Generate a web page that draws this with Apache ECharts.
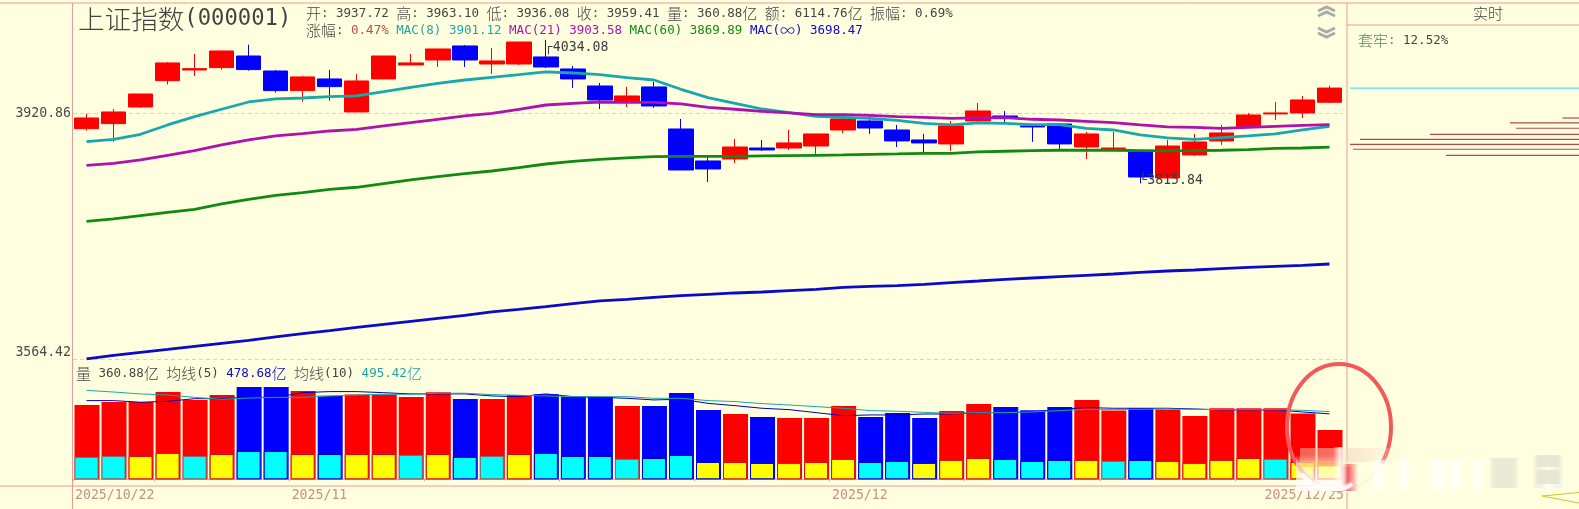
<!DOCTYPE html>
<html><head><meta charset="utf-8">
<style>html,body{margin:0;padding:0;background:#ffffe0;overflow:hidden}#c{width:1579px;height:509px}</style>
<script src="https://cdn.jsdelivr.net/npm/echarts@6/dist/echarts.min.js"></script>
</head><body><div id="c"></div>
<script>
const dates = ['2025/10/22','2025/10/23','2025/10/24','2025/10/27','2025/10/28','2025/10/29','2025/10/30','2025/10/31',
'2025/11/03','2025/11/04','2025/11/05','2025/11/06','2025/11/07','2025/11/10','2025/11/11','2025/11/12','2025/11/13','2025/11/14',
'2025/11/17','2025/11/18','2025/11/19','2025/11/20','2025/11/21','2025/11/24','2025/11/25','2025/11/26','2025/11/27','2025/11/28',
'2025/12/01','2025/12/02','2025/12/03','2025/12/04','2025/12/05','2025/12/08','2025/12/09','2025/12/10','2025/12/11','2025/12/12',
'2025/12/15','2025/12/16','2025/12/17','2025/12/18','2025/12/19','2025/12/22','2025/12/23','2025/12/24','2025/12/25'];
// open, close, low, high
const candles = [
[3897.6,3913.8,3894.6,3919.9],[3905.2,3922.9,3878.1,3927.4],[3930.5,3950.3,3929.0,3950.3],[3970.8,3998.1,3964.7,3999.6],
[3987.2,3989.3,3978.0,4012.0],[3990.9,4016.7,3987.8,4016.7],[4008.9,3987.8,3986.2,4026.6],[3985.7,3955.5,3952.4,3987.2],
[3955.5,3976.5,3938.6,3978.0],[3973.4,3961.6,3940.2,3987.2],[3922.9,3970.3,3922.9,3981.1],[3973.4,4008.9,3973.4,4008.9],
[3995.0,3998.1,3995.0,4012.0],[4002.7,4019.8,3991.9,4019.8],[4024.5,4002.7,3991.9,4026.0],[3996.5,4001.2,3981.1,4021.4],
[3996.5,4030.7,3995.0,4030.7],[4007.4,3991.9,3990.3,4034.08],[3988.8,3973.4,3959.5,3993.4],[3962.6,3941.2,3927.4,3967.2],
[3939.6,3947.3,3930.5,3961.1],[3961.1,3932.0,3929.0,3968.8],[3897.1,3835.7,3835.7,3912.3],[3849.1,3837.2,3817.9,3858.1],
[3852.1,3870.0,3846.1,3882.1],[3868.5,3865.6,3864.1,3880.6],[3868.5,3876.1,3865.6,3895.6],[3871.5,3889.6,3859.6,3889.6],
[3895.6,3912.3,3891.1,3918.3],[3909.2,3898.6,3889.6,3918.3],[3895.6,3879.1,3870.0,3903.2],[3880.6,3876.1,3862.6,3889.6],
[3874.6,3901.7,3864.1,3909.2],[3909.2,3924.4,3907.7,3936.6],[3916.8,3913.8,3904.7,3924.4],[3901.7,3900.2,3877.6,3903.2],
[3904.7,3874.6,3865.6,3904.7],[3870.0,3889.6,3852.1,3892.6],[3865.6,3868.5,3865.6,3892.6],[3862.6,3825.3,3815.84,3865.6],
[3823.9,3871.5,3823.9,3880.6],[3858.1,3877.6,3856.6,3889.6],[3879.1,3891.1,3873.1,3903.2],[3900.2,3918.3,3900.2,3921.4],
[3919.9,3921.4,3910.7,3938.1],[3921.4,3941.2,3913.8,3947.3],[3937.72,3959.41,3936.08,3963.10]];
const mac8 = [3878.1,3881.6,3889.1,3903.2,3915.8,3927.0,3938.1,3942.7,3944.2,3946.3,3947.3,3953.9,3960.6,3966.7,3971.8,3975.9,3980.0,3984.2,3982.6,3980.0,3975.4,3971.8,3957.5,3944.7,3936.1,3927.4,3921.9,3916.3,3914.8,3913.3,3910.2,3905.7,3903.2,3906.2,3905.7,3903.7,3903.7,3898.1,3895.6,3888.1,3883.6,3881.6,3884.1,3886.6,3889.6,3895.6,3901.12];
const mac21 = [3842.7,3845.6,3850.6,3857.6,3864.6,3873.1,3880.6,3886.6,3890.1,3894.1,3896.6,3901.7,3906.7,3911.8,3916.8,3920.9,3927.0,3933.5,3936.1,3938.1,3937.6,3937.6,3935.1,3930.0,3927.0,3923.9,3921.4,3918.8,3918.8,3917.8,3915.8,3914.8,3913.3,3913.8,3914.3,3911.8,3910.7,3908.7,3906.7,3903.2,3900.2,3899.6,3898.1,3899.6,3901.1,3902.6,3903.58];
const mac60 = [3760.2,3763.6,3768.5,3773.3,3777.7,3785.5,3792.4,3798.3,3802.2,3807.1,3810.1,3815.5,3820.9,3825.8,3830.3,3834.2,3839.1,3844.6,3848.6,3851.6,3853.6,3855.6,3856.1,3856.1,3856.1,3856.6,3857.1,3857.6,3858.1,3859.1,3859.6,3860.6,3860.6,3862.6,3863.6,3864.6,3865.1,3865.1,3865.1,3864.6,3864.1,3864.6,3865.1,3866.1,3868.0,3868.5,3869.89];
const macInf = [3564.9,3569.9,3574.1,3578.2,3582.4,3586.6,3590.7,3595.4,3600.0,3604.2,3608.9,3613.1,3617.3,3621.5,3625.7,3630.4,3634.1,3637.9,3642.1,3645.9,3648.2,3651.1,3653.4,3655.3,3657.2,3658.6,3660.5,3662.4,3665.2,3666.6,3667.6,3669.5,3671.9,3674.2,3676.6,3678.5,3680.4,3682.3,3684.2,3686.6,3688.5,3689.9,3691.8,3693.7,3695.2,3696.6,3698.47];
const volume = [544,566,566,639,581,617,676,676,647,612,620,620,603,637,588,588,617,622,605,605,537,537,632,508,478,456,449,449,537,456,486,449,500,551,529,505,529,581,503,520,510,464,520,520,520,481,360.88];
const innerVolume = [164,171,171,193,171,185,207,207,185,185,185,185,178,185,164,171,185,193,171,171,149,156,178,127,127,120,120,127,149,127,134,120,142,156,149,134,142,142,134,142,134,120,142,156,149,127,105];
const innerIsYellow = [0,0,1,1,0,1,0,0,1,0,1,1,0,1,0,0,1,0,0,0,0,0,0,1,1,1,1,1,1,0,0,1,1,1,0,0,0,1,0,0,1,1,1,1,0,1,1];
const volMa5 = [576,576,564,571,590,590,600,600,634,642,642,634,625,625,625,610,605,625,605,600,593,581,586,556,539,520,510,488,466,471,471,478,478,488,488,493,512,525,520,520,520,515,508,508,508,493,478.68];
const volMa10 = [651,639,625,617,600,586,595,600,600,610,617,622,622,630,630,620,615,610,605,605,605,593,593,576,569,554,544,532,520,503,498,490,483,488,488,493,503,512,512,512,515,512,510,510,510,505,495.42];
const priceTicks = [3564.42,3920.86];
const dateLabelIndex = [0,8,28,46];
const dateTickIndex = [0,3,8,13,18,23,28,33,38,43];
const chipPrice = [3913.7,3906.2,3898.2,3889.1,3881.6,3874.0,3866.6,3857.6];
const chipLength = [16.5,69,63,149,219,229,226,133];
const currentPrice = 3959.41;
const nameText = '上证指数(000001)';
const quoteLine = '开: 3937.72 高: 3963.10 低: 3936.08 收: 3959.41 量: 360.88亿 额: 6114.76亿 振幅: 0.69%';
const maLine = [['涨幅: ','d'],['0.47% ','r'],['MAC(8) 3901.12 ','t'],['MAC(21) 3903.58 ','p'],['MAC(60) 3869.89 ','g'],['MAC(∞) 3698.47','b']];
const volLine = [['量 360.88亿 均线(5) ','d'],['478.68亿 ','b'],['均线(10) ','d'],['495.42亿','t']];
const sideTab = '实时';
const sideLine = [['套牢:','h'],[' 12.52%','d']];

const C = {bg:'#ffffe0',frame:'#ea9a9a',d:'#444444',r:'#b84a4a',t:'#1fa5a5',p:'#b010b0',g:'#128a12',b:'#0a0ac8',h:'#5a8068',red:'#ff0000',blue:'#0000ff',cyan:'#00ffff',yellow:'#ffff00'};
const MONO = '"DejaVu Sans Mono","Liberation Mono",monospace', CJK = '"Noto Sans CJK SC"';
function richStyles(cjk, mono){
  const o = {};
  for (const k of ['d','r','t','p','g','b','h']) {
    o[k+'c'] = {fontFamily:CJK,fontSize:cjk,color:C[k],lineHeight:cjk+4,fontWeight:300};
    o[k+'m'] = {fontFamily:MONO,fontSize:mono,color:C[k],lineHeight:cjk+4,fontWeight:'normal'};
  }
  return o;
}
function toRich(parts){
  return parts.map(([s,k]) => s.split(/([\u4e00-\u9fff∞]+)/).filter(x=>x!=='').map(x =>
    /[\u4e00-\u9fff∞]/.test(x) ? `{${k}c|${x}}` : `{${k}m|${x}}`).join('')).join('');
}
function textTitle(parts,left,top,cjk,mono){
  return {text:toRich(parts),left,top,padding:0,textStyle:{fontWeight:'normal',rich:richStyles(cjk,mono)}};
}
const G = {left:73,width:1270,top:6,h:353.3,volTop:387,volH:92.3};
const priceMin = 3564.42, priceMax = 4087.3;
const lineSeries = (name,data,color,w,xi,z) => ({name,type:'line',data,xAxisIndex:xi,yAxisIndex:xi,showSymbol:false,silent:true,
  lineStyle:{color,width:w},itemStyle:{color},z:z||5,animation:false});
const up = i => candles[i][1] >= candles[i][0];
const LG = (x1,y1,x2,y2,stops) => new echarts.graphic.LinearGradient(x1,y1,x2,y2,stops.map(s=>({offset:s[0],color:s[1]})));
const softV = (a) => LG(0,0,1,0,[[0,'rgba(255,255,255,0)'],[.5,`rgba(255,255,255,${a})`],[1,'rgba(255,255,255,0)']]);
const softG = (a) => LG(0,0,1,0,[[0,'rgba(225,225,210,0)'],[.2,`rgba(225,225,210,${a})`],[.8,`rgba(225,225,210,${a})`],[1,'rgba(225,225,210,0)']]);
const gfx = (shape,fill,z) => ({type:'rect',z:z||34,silent:true,shape,style:{fill}});
const option = {
  backgroundColor:C.bg, animation:false,
  title:[
    textTitle([[nameText,'d']],78,4,26.6,22.2),
    textTitle([[quoteLine,'d']],306,4,15,12.5),
    textTitle(maLine,306,21,15,12.5),
    textTitle(volLine,76,364,15,12.5),
    textTitle([[sideTab,'d']],1473,4,15,12.5),
    textTitle(sideLine,1358,31,15,12.5)
  ],
  grid:[
    {left:G.left,width:G.width,top:G.top,height:G.h},
    {left:G.left,width:G.width,top:G.volTop,height:G.volH},
    {left:1350,width:229,top:G.top,height:G.h}
  ],
  xAxis:[
    {type:'category',gridIndex:0,data:dates,show:false},
    {type:'category',gridIndex:1,data:dates,offset:6.7,
      axisLine:{lineStyle:{color:C.frame,width:1}},
      axisTick:{show:true,length:2,lineStyle:{color:C.frame},interval:(i)=>dateTickIndex.includes(i)},
      axisLabel:{show:true,margin:3,hideOverlap:false,interval:(i)=>dateLabelIndex.includes(i),
        formatter:(v,i)=>i===0?`{l|${v}}`:i===46?`{r|${v}}`:`{m|${v.slice(0,7)}}`,
        rich:{
          l:{width:23,align:'left',fontFamily:MONO,fontSize:13.2,color:'#c88f88'},
          m:{width:22,align:'left',fontFamily:MONO,fontSize:13.2,color:'#c88f88'},
          r:{width:29,align:'right',fontFamily:MONO,fontSize:13.2,color:'#c88f88'}}}},
    {type:'value',gridIndex:2,min:0,max:229,inverse:true,show:false}
  ],
  yAxis:[
    {type:'log',gridIndex:0,min:priceMin,max:priceMax,
      axisLine:{show:false},
      axisTick:{show:false,customValues:priceTicks},
      axisLabel:{customValues:priceTicks,margin:2,fontFamily:MONO,fontSize:13.2,color:'#4a4a4a',verticalAlignMinLabel:'bottom',formatter:v=>(+v).toFixed(2)},
      splitLine:{show:true,lineStyle:{color:'#e6d0b0',type:[4,3],width:1}}},
    {type:'value',gridIndex:1,min:0,max:675.6,show:false,splitLine:{show:false}},
    {type:'log',gridIndex:2,min:priceMin,max:priceMax,show:false,splitLine:{show:false}}
  ],
  series:[
    {name:'K',type:'candlestick',xAxisIndex:0,yAxisIndex:0,data:candles,barWidth:25,silent:true,z:3,
      itemStyle:{color:C.red,color0:C.blue,borderColor:C.red,borderColor0:C.blue,borderWidth:1},
      markPoint:{symbol:'circle',symbolSize:0,silent:true,z:9,
        data:[
          {coord:[17,4034.08],label:{formatter:'┌4034.08',position:'right',distance:0,offset:[-1,8]}},
          {coord:[39,3815.84],label:{formatter:'└3815.84',position:'right',distance:0,offset:[-1,-3]}}
        ],
        label:{show:true,fontFamily:MONO,fontSize:13.2,color:'#3c3c3c'}}},
    lineSeries('MAC(60)',mac60,C.g,2.8,0,5),
    lineSeries('MAC(∞)',macInf,C.b,2.8,0,5),
    lineSeries('MAC(8)',mac8,'#18a8ac',2.8,0,6),
    lineSeries('MAC(21)',mac21,C.p,2.8,0,7),
    {name:'量',type:'bar',xAxisIndex:1,yAxisIndex:1,barWidth:25,barGap:'-100%',silent:true,z:3,
      data:volume.map((v,i)=>({value:v,itemStyle:{color:up(i)?C.red:C.blue}}))},
    {name:'内',type:'bar',xAxisIndex:1,yAxisIndex:1,barWidth:24,barGap:'-100%',silent:true,z:4,
      data:innerVolume.map((v,i)=>({value:v,itemStyle:{color:innerIsYellow[i]?C.yellow:C.cyan,borderColor:up(i)?(innerIsYellow[i]?'#d01010':'#8a6a6a'):'#0000c0',borderWidth:1}}))},
    lineSeries('均线(5)',volMa5,'#0000c0',1,1,6),
    lineSeries('均线(10)',volMa10,'#18a8a8',1,1,6),
    {name:'筹码',type:'custom',xAxisIndex:2,yAxisIndex:2,silent:true,clip:false,z:3,
      data:[[229,currentPrice,1]].concat(chipPrice.map((p,i)=>[chipLength[i],p,0])),
      encode:{x:0,y:1},
      renderItem:(params,api)=>{
        const a=api.coord([0,api.value(1)]), b=api.coord([api.value(0),api.value(1)]);
        return {type:'line',shape:{x1:b[0],y1:a[1],x2:a[0],y2:a[1]},style:{stroke:api.value(2)?'#55dff0':'#b04a4a',lineWidth:1.2}};
      }}
  ],
  graphic:{elements:[
    ...[[0,3,1579,3],[72.5,3,72.5,509],[1347,3,1347,509],[0,486,1347,486],[1347,25,1579,25]].map(s=>({type:'line',z:20,silent:true,
      shape:{x1:s[0],y1:s[1],x2:s[2],y2:s[3]},style:{stroke:C.frame,lineWidth:1}})),
    ...[[[1318,11],[1326.5,7],[1335,11]],[[1318,16],[1326.5,12],[1335,16]],[[1318,28],[1326.5,32],[1335,28]],[[1318,33],[1326.5,37],[1335,33]]].map(p=>({
      type:'polyline',z:20,silent:true,shape:{points:p},style:{fill:null,stroke:'#a8aca8',lineWidth:3}})),
    {type:'polyline',z:20,silent:true,shape:{points:[[1579,492.5],[1542,496],[1579,503]]},style:{fill:null,stroke:'#c8c828',lineWidth:1}},
    {type:'ellipse',z:30,silent:true,shape:{cx:1339,cy:427,rx:52,ry:63},style:{fill:null,stroke:'#f25a5a',lineWidth:4}},
    // blurred watermark overlay
    gfx({x:1343,y:458,width:56,height:34},LG(0,0,0,1,[[0,'rgba(255,255,224,0)'],[.2,'rgba(255,255,224,.95)'],[1,'rgba(255,255,224,.95)']]),31),
    gfx({x:1296,y:455,width:48,height:36},LG(0,0,0,1,[[0,'rgba(255,252,248,0)'],[.25,'rgba(255,252,248,.6)'],[.7,'rgba(255,252,248,.75)'],[1,'rgba(255,252,248,.92)']]),31),
    gfx({x:1340,y:464,width:18,height:27},LG(0,0,1,0,[[0,'rgba(240,50,70,0)'],[.45,'rgba(240,50,70,.8)'],[1,'rgba(240,50,70,0)']]),32),
    gfx({x:1300,y:448,width:115,height:14},LG(0,0,1,0,[[0,'rgba(240,190,165,.5)'],[.5,'rgba(245,215,190,.55)'],[1,'rgba(255,245,220,0)']]),32),
    gfx({x:1300,y:461,width:60,height:6},LG(0,0,1,0,[[0,'rgba(250,190,60,.55)'],[.6,'rgba(250,210,90,.5)'],[1,'rgba(255,240,160,0)']]),32),
    {type:'bezierCurve',z:33,silent:true,shape:{x1:1302,y1:474,cpx1:1310,cpy1:488,cpx2:1340,cpy2:494,x2:1352,y2:484},style:{fill:null,stroke:'rgba(255,253,248,.9)',lineWidth:4,shadowBlur:4,shadowColor:'#fff'}},
    gfx({x:1333,y:447,width:14,height:40},softV(.85)),
    gfx({x:1369,y:460,width:18,height:30},softV(.85)),
    gfx({x:1396,y:460,width:16,height:30},softV(.8)),
    gfx({x:1426,y:460,width:24,height:30},softV(.9)),
    gfx({x:1447,y:460,width:18,height:30},softV(.9)),
    gfx({x:1470,y:460,width:16,height:30},softV(.85)),
    gfx({x:1488,y:458,width:32,height:30},softG(.7)),
    gfx({x:1532,y:455,width:32,height:33},softG(.8)),
    gfx({x:1532,y:467,width:32,height:3},softV(.9),35),
    gfx({x:1532,y:484,width:34,height:4},softV(.95),35)
  ]}
};
const chart = echarts.init(document.getElementById('c'),null,{renderer:'canvas'});
chart.setOption(option);
</script></body></html>
